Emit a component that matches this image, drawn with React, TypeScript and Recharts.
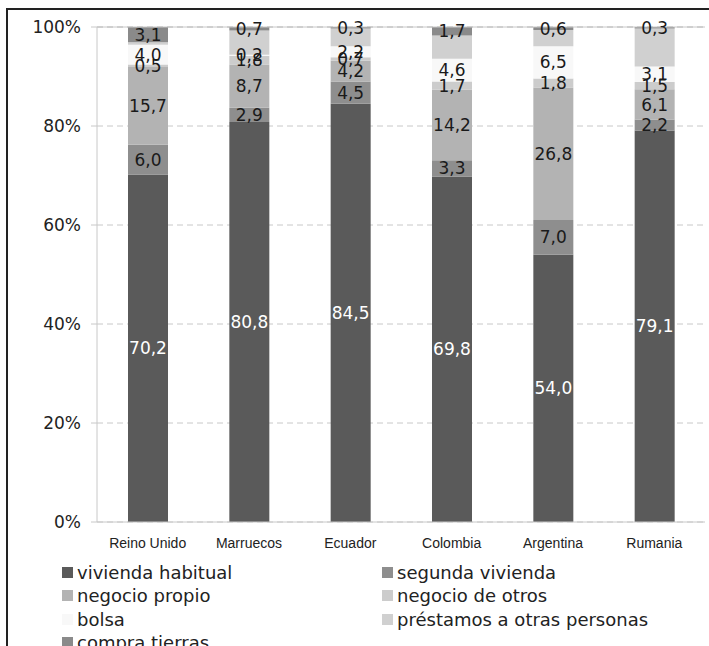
import React from 'react';
import { BarChart, Bar, XAxis, YAxis, CartesianGrid, LabelList, ReferenceLine } from 'recharts';

const categories = ['Reino Unido', 'Marruecos', 'Ecuador', 'Colombia', 'Argentina', 'Rumania'];
const viviendaHabitual = [70.2, 80.8, 84.5, 69.8, 54.0, 79.1];
const segundaVivienda = [6.0, 2.9, 4.5, 3.3, 7.0, 2.2];
const negocioPropio = [15.7, 8.7, 4.2, 14.2, 26.8, 6.1];
const negocioOtros = [0.5, 1.8, 0.7, 1.7, 1.8, 1.5];
const bolsa = [4.0, 0.2, 2.2, 4.6, 6.5, 3.1];
const prestamos = [0.5, 4.9, 3.6, 4.7, 3.3, 7.7];
const compraTierras = [3.1, 0.7, 0.3, 1.7, 0.6, 0.3];
const yTicks = [0, 20, 40, 60, 80, 100];
const boundaryTicks = [0, 1, 2, 3, 4, 5, 6];

const series = [
  { key: 'vh', name: 'vivienda habitual', values: viviendaHabitual, color: '#5a5a5a', label: '#ffffff', showLabel: true },
  { key: 'sv', name: 'segunda vivienda', values: segundaVivienda, color: '#8e8e8e', label: '#1a1a1a', showLabel: true },
  { key: 'np', name: 'negocio propio', values: negocioPropio, color: '#b3b3b3', label: '#1a1a1a', showLabel: true },
  { key: 'no', name: 'negocio de otros', values: negocioOtros, color: '#cccccc', label: '#1a1a1a', showLabel: true },
  { key: 'bo', name: 'bolsa', values: bolsa, color: '#f8f8f8', label: '#1a1a1a', showLabel: true },
  { key: 'pr', name: 'préstamos a otras personas', values: prestamos, color: '#d0d0d0', label: '#1a1a1a', showLabel: false },
  { key: 'ct', name: 'compra tierras', values: compraTierras, color: '#8a8a8a', label: '#1a1a1a', showLabel: true },
];

const data = categories.map((c, i) => {
  const row: Record<string, any> = { name: c };
  series.forEach((s) => (row[s.key] = s.values[i]));
  return row;
});

const fmt = (v: any) => (typeof v === 'number' ? v.toFixed(1).replace('.', ',') : v);

const legendRows = [
  [series[0], series[1]],
  [series[2], series[3]],
  [series[4], series[5]],
  [series[6]],
];

export default function App() {
  return (
    <div style={{ position: 'absolute', left: 0, top: 0, width: 709, height: 646, overflow: 'hidden', background: '#fff' }}>
      <div style={{ position: 'absolute', left: 6, top: 8, width: 720, height: 700, borderLeft: '2px solid #222', borderTop: '2px solid #222' }} />
      <div style={{ position: 'absolute', left: 0, top: 0 }}>
        <BarChart width={709} height={646} data={data} margin={{ top: 27, right: 4, left: 0, bottom: 94 }}>
          <CartesianGrid vertical={false} stroke="#c8c8c8" strokeDasharray="6 4" />
          <XAxis
            xAxisId="b"
            type="number"
            domain={[0, 6]}
            ticks={boundaryTicks}
            tick={false}
            tickSize={5}
            tickLine={{ stroke: '#c8c8c8' }}
            axisLine={false}
            height={0}
          />
          <XAxis
            dataKey="name"
            height={30}
            tickLine={false}
            tickMargin={10}
            axisLine={{ stroke: '#c8c8c8' }}
            tick={{ fontSize: 14, fill: '#222', fontFamily: 'Liberation Sans, Arial, sans-serif' }}
            interval={0}
          />
          <YAxis
            width={97}
            domain={[0, 100]}
            ticks={yTicks}
            tickFormatter={(v) => `${v}%`}
            tickSize={6}
            tickMargin={10}
            tickLine={{ stroke: '#c8c8c8' }}
            axisLine={{ stroke: '#c8c8c8' }}
            tick={{ fontSize: 17, fill: '#222', fontFamily: 'DejaVu Sans, sans-serif' }}
          />
          <YAxis
            yAxisId="r"
            orientation="right"
            width={0}
            domain={[0, 100]}
            tick={false}
            tickLine={false}
            axisLine={{ stroke: '#c8c8c8' }}
          />
          <ReferenceLine y={100} stroke="#c8c8c8" />
          {series.map((s) => (
            <Bar key={s.key} dataKey={s.key} name={s.name} stackId="a" fill={s.color} barSize={40} isAnimationActive={false}>
              {s.showLabel && (
                <LabelList
                  dataKey={s.key}
                  position="center"
                  formatter={fmt}
                  fill={s.label}
                  fontSize={17}
                  fontFamily="DejaVu Sans, sans-serif"
                />
              )}
            </Bar>
          ))}
        </BarChart>
      </div>
      {legendRows.map((row, r) =>
        row.map((s, c) => (
          <div
            key={s.key}
            style={{
              position: 'absolute',
              left: c === 0 ? 62 : 382,
              top: 572 + r * 23.5 - 12,
              height: 24,
              display: 'flex',
              alignItems: 'center',
              whiteSpace: 'nowrap',
              fontFamily: 'DejaVu Sans, sans-serif',
              fontSize: 18,
              color: '#222',
            }}
          >
            <span style={{ display: 'inline-block', width: 11, height: 11, background: s.color, marginRight: 4 }} />
            <span>{s.name}</span>
          </div>
        ))
      )}
    </div>
  );
}
